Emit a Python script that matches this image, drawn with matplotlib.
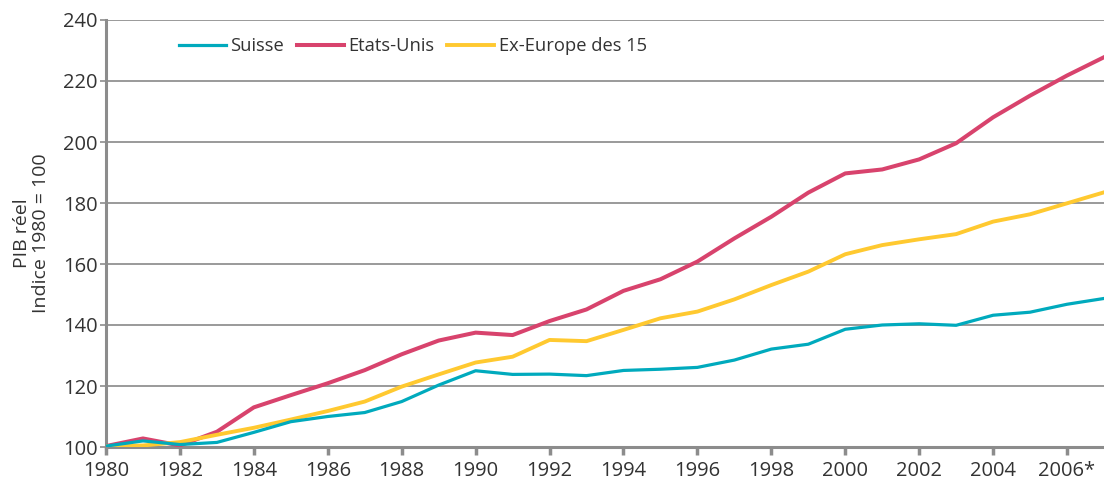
import matplotlib
matplotlib.use("Agg")
import matplotlib.pyplot as plt

years = list(range(1980, 2008))
suisse = [100.3, 102.0, 100.8, 101.5, 104.8, 108.3, 110.0, 111.3, 114.9, 120.3,
          125.0, 123.8, 123.9, 123.4, 125.1, 125.5, 126.1, 128.5, 132.1, 133.7,
          138.6, 140.0, 140.4, 139.9, 143.2, 144.2, 146.8, 148.7]
etats_unis = [100.3, 102.8, 100.5, 105.0, 113.0, 117.0, 120.9, 125.2, 130.4, 134.9,
              137.5, 136.7, 141.3, 145.1, 151.2, 155.0, 160.8, 168.4, 175.5, 183.4,
              189.7, 191.0, 194.3, 199.6, 208.1, 215.2, 221.8, 227.8]
europe15 = [100.3, 100.5, 101.6, 104.0, 106.3, 109.0, 111.8, 114.9, 119.8, 123.8,
            127.7, 129.6, 135.1, 134.7, 138.4, 142.2, 144.4, 148.4, 153.1, 157.5,
            163.2, 166.2, 168.1, 169.8, 173.9, 176.3, 179.9, 183.5]
series_names = ["Suisse", "Etats-Unis", "Ex-Europe des 15"]
xtick_years = list(range(1980, 2007, 2))
xtick_labels = [str(y) for y in xtick_years[:-1]] + ["2006*"]
yticks = list(range(100, 241, 20))

plt.rcParams['font.family'] = ['Open Sans', 'DejaVu Sans']
text_col = "#333333"
grid_col = "#9a9a9a"

fig = plt.figure(figsize=(11.04, 4.83), dpi=100)
ax = fig.add_axes([106/1104, 36/483, (1104-106)/1104, (447-20)/483])

ax.plot(years, suisse, color="#00AABD", lw=2.3, label=series_names[0], zorder=4)
ax.plot(years, etats_unis, color="#D8436D", lw=2.9, label=series_names[1], zorder=3)
ax.plot(years, europe15, color="#FFC930", lw=2.8, label=series_names[2], zorder=3)

ax.set_xlim(1980, 2007)
ax.set_ylim(100, 240)
ax.set_xticks(xtick_years)
ax.set_xticklabels(xtick_labels)
ax.set_yticks(yticks)
ax.yaxis.grid(True, color=grid_col, lw=1.4)
ax.set_axisbelow(True)

for s in ["top", "right"]:
    ax.spines[s].set_visible(False)
for s in ["left", "bottom"]:
    ax.spines[s].set_color("#8c8c8c")
    ax.spines[s].set_linewidth(2.2)
    ax.spines[s].set_zorder(2)

ax.tick_params(axis="x", direction="out", length=6, width=2.5, color="#8c8c8c",
               labelsize=14.5, labelcolor=text_col, pad=4)
ax.tick_params(axis="y", direction="out", length=4, width=1.2, color="#8c8c8c",
               labelsize=14.5, labelcolor=text_col, pad=2)

ax.set_ylabel("PIB réel\nIndice 1980 = 100", fontsize=14, color=text_col,
              linespacing=1.05)
ax.yaxis.set_label_coords(-(106-50)/998, 0.5)

leg = ax.legend(loc="center left", bbox_to_anchor=(179/1104, 1-46/483),
                bbox_transform=fig.transFigure, ncol=3, frameon=False,
                fontsize=13.2, handlelength=2.55, handletextpad=0.25,
                columnspacing=0.7, borderpad=0, borderaxespad=0)
for t in leg.get_texts():
    t.set_color(text_col)

fig.savefig("out.png", dpi=100)
